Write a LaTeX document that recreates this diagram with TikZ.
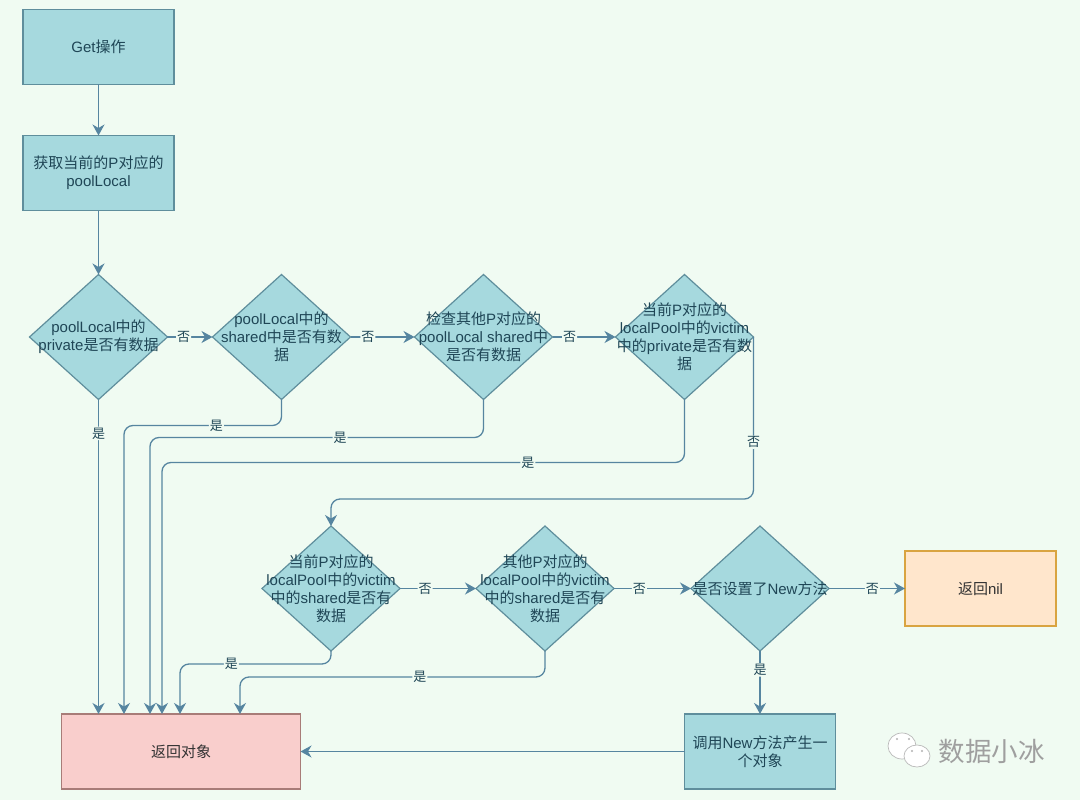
\documentclass[tikz,border=0pt]{standalone}
\usepackage{fontspec}
\setmainfont{Liberation Sans}
\newfontfamily\cjk{Noto Sans CJK SC}
\newcommand{\zh}[1]{{\cjk #1}}
\usepackage{xcolor}
\usetikzlibrary{shapes.geometric, arrows.meta, positioning}
\definecolor{pagebg}{HTML}{F0FBF2}
\definecolor{boxfill}{HTML}{A6D9DE}
\definecolor{boxline}{HTML}{5F8E9C}
\definecolor{flowline}{HTML}{5685A0}
\definecolor{boxtext}{HTML}{1F4656}
\definecolor{nilfill}{HTML}{FFE6CC}
\definecolor{nilline}{HTML}{D9A441}
\definecolor{retfill}{HTML}{F9CECC}
\definecolor{retline}{HTML}{A87C78}
\tikzset{
  stepbox/.style={
    rectangle, draw=boxline, fill=boxfill, line width=1.2pt, outer sep=0pt,
    minimum width=151pt, minimum height=75pt, inner sep=1pt,
    align=center, text=boxtext, font=\fontsize{15}{18}\selectfont,
  },
  decbox/.style={
    diamond, aspect=1.104, draw=boxline, fill=boxfill, line width=1.2pt, outer sep=0pt,
    minimum width=138pt, minimum height=125pt, inner xsep=-50pt, inner ysep=-30pt,
    align=center, text=boxtext, font=\fontsize{15}{18}\selectfont,
  },
  flow/.style={-{Stealth[length=11pt,width=12pt,inset=3.5pt]}, line width=1.3pt,
    draw=flowline, rounded corners=9pt},
  lbl/.style={fill=pagebg, inner sep=1pt, text=boxtext, font=\fontsize{13}{15}\selectfont\cjk},
}
\begin{document}
\begin{tikzpicture}[x=1pt, y=1pt]
  \useasboundingbox[fill=pagebg] (0,0) rectangle (1080,-800);

  % Top column
  \node[stepbox] (get) at (98.5,-47) {Get\zh{操作}};
  \node[stepbox, below=51pt of get] (loc) {\zh{获取当前的}P\zh{对应的}\\poolLocal};

  % Row 1
  \node[decbox, below=64pt of loc] (dec1) {poolLocal\zh{中的}\\private\zh{是否有数据}};
  \node[decbox, right=45pt of dec1] (dec2) {poolLocal\zh{中的}\\shared\zh{中是否有数}\\\zh{据}};
  \node[decbox, right=64pt of dec2] (dec3) {\zh{检查其他}P\zh{对应的}\\poolLocal shared\zh{中}\\\zh{是否有数据}};
  \node[decbox, right=63pt of dec3] (dec4) {\zh{当前}P\zh{对应的}\\localPool\zh{中的}victim\\\zh{中的}private\zh{是否有数}\\\zh{据}};

  % Row 2
  \node[decbox] (dec5) at (331,-588.5) {\zh{当前}P\zh{对应的}\\localPool\zh{中的}victim\\\zh{中的}shared\zh{是否有}\\\zh{数据}};
  \node[decbox, right=76pt of dec5] (dec6) {\zh{其他}P\zh{对应的}\\localPool\zh{中的}victim\\\zh{中的}shared\zh{是否有}\\\zh{数据}};
  \node[decbox, right=77pt of dec6] (dec7) {\zh{是否设置了}New\zh{方法}};
  \node[stepbox, right=76pt of dec7, draw=nilline, fill=nilfill, text=black!80] (nilbox) {\zh{返回}nil};

  % Bottom row
  \node[stepbox, below=63pt of dec7] (newobj) {\zh{调用}New\zh{方法产生一}\\\zh{个对象}};
  \node[stepbox, left=384pt of newobj, minimum width=239pt, draw=retline, fill=retfill, text=black!80] (ret) {\zh{返回对象}};

  % Entry points on the result box
  \coordinate (in2) at (124,-714);
  \coordinate (in3) at (150,-714);
  \coordinate (in4) at (162,-714);
  \coordinate (in5) at (180,-714);
  \coordinate (in6) at (240,-714);

  % Arrows
  \draw[flow] (get) -- (loc);
  \draw[flow] (loc) -- (dec1);
  \draw[flow] (dec1) -- node[lbl, pos=.36]{否} (dec2);
  \draw[flow] (dec2) -- node[lbl, pos=.27]{否} (dec3);
  \draw[flow] (dec3) -- node[lbl, pos=.27]{否} (dec4);
  \draw[flow] (dec4.east) -- node[lbl, pos=.65]{否} ++(0,-162) -| (dec5.north);
  \draw[flow] (dec5) -- node[lbl, pos=.33]{否} (dec6);
  \draw[flow] (dec6) -- node[lbl, pos=.33]{否} (dec7);
  \draw[flow] (dec7) -- node[lbl, pos=.57]{否} (nilbox);
  \draw[flow] (dec7) -- node[lbl, pos=.3]{是} (newobj);
  \draw[flow] (newobj) -- (ret);

  \draw[flow] (dec1.south) -- node[lbl, pos=.108]{是} (dec1.south |- ret.north);
  \draw[flow] (dec2.south) -- ++(0,-26) -| node[lbl, pos=.207]{是} (in2);
  \draw[flow] (dec3.south) -- ++(0,-38) -| node[lbl, pos=.215]{是} (in3);
  \draw[flow] (dec4.south) -- ++(0,-63) -| node[lbl, pos=.15]{是} (in4);
  \draw[flow] (dec5.south) -- ++(0,-13) -| node[lbl, pos=.33]{是} (in5);
  \draw[flow] (dec6.south) -- ++(0,-26) -| node[lbl, pos=.205]{是} (in6);

  % Watermark
  \draw[gray!55, fill=white, line width=.7pt] (902,-746) ellipse (14pt and 13pt);
  \draw[gray!55, fill=white, line width=.7pt] (917,-756) ellipse (13pt and 11pt);
  \fill[gray!60] (897,-739) circle (1.2pt) (909,-739) circle (1.2pt)
    (912,-751) circle (1.2pt) (922,-751) circle (1.2pt);
  \node[text=gray!75, font=\fontsize{26.5}{28}\selectfont\cjk, inner sep=0pt] (mark) at (991.5,-751) {数据小冰};
\end{tikzpicture}
\end{document}
